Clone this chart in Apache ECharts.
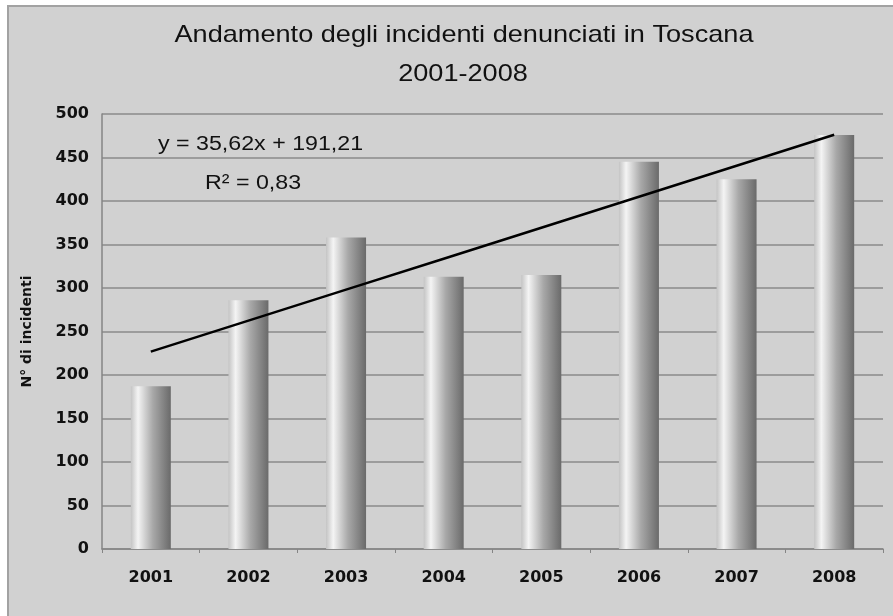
<!DOCTYPE html>
<html>
<head>
<meta charset="utf-8">
<script src="https://cdn.jsdelivr.net/npm/echarts@6/dist/echarts.min.js"></script>
<style>html,body{margin:0;padding:0;background:#fff;}#c{width:893px;height:616px;}</style>
</head>
<body>
<div id="c"></div>
<script>
const categories = ['2001','2002','2003','2004','2005','2006','2007','2008'];
const incidents = [187, 286, 358, 313, 315, 445, 425, 476];
// linear trend y = 35,62x + 191,21 evaluated at x = 1..8 (as in the reference)
const trend = [226.83, 262.45, 298.07, 333.69, 369.31, 404.93, 440.55, 476.17];
const yTicks = { min: 0, max: 500, interval: 50 };
const titleText = 'Andamento degli incidenti denunciati in Toscana';
const subtitleText = '2001-2008';
const eqText = 'y = 35,62x + 191,21';
const r2Text = 'R\u00B2 = 0,83';
const yName = 'N\u00B0 di incidenti';

const chart = echarts.init(document.getElementById('c'), null, {renderer: 'canvas'});
const FONT = '"Liberation Sans", Arial, sans-serif';
const AFONT = '"DejaVu Sans", sans-serif';
chart.setOption({
  backgroundColor: '#ffffff',
  animation: false,
  graphic: [
    { type: 'rect', z: -10, silent: true, shape: { x: 8, y: 6, width: 900, height: 620 },
      style: { fill: '#d1d1d1', stroke: '#a2a2a2', lineWidth: 2 } },
    { type: 'text', x: 464, y: 35, scaleX: 1.13,
      style: { text: titleText, font: '24px ' + FONT, fill: '#111', textAlign: 'center', textVerticalAlign: 'middle' } },
    { type: 'text', x: 463, y: 74, scaleX: 1.13,
      style: { text: subtitleText, font: '24px ' + FONT, fill: '#111', textAlign: 'center', textVerticalAlign: 'middle' } },
    { type: 'text', x: 158, y: 144, scaleX: 1.16,
      style: { text: eqText, font: '20px ' + FONT, fill: '#111', textVerticalAlign: 'middle' } },
    { type: 'text', x: 205, y: 183, scaleX: 1.16,
      style: { text: r2Text, font: '20px ' + FONT, fill: '#111', textVerticalAlign: 'middle' } }
  ],
  grid: { left: 102, right: 10, top: 114, bottom: 67 },
  xAxis: {
    type: 'category', data: categories, boundaryGap: true,
    axisLine: { lineStyle: { color: '#858585', width: 1.5 } },
    axisTick: { show: true, length: 4, lineStyle: { color: '#858585' } },
    axisLabel: { margin: 21, fontFamily: AFONT, fontSize: 16, fontWeight: 'bold', color: '#111' }
  },
  yAxis: {
    type: 'value', min: yTicks.min, max: yTicks.max, interval: yTicks.interval,
    name: yName, nameLocation: 'middle', nameGap: 68, nameRotate: 90,
    nameTextStyle: { fontFamily: AFONT, fontSize: 14, fontWeight: 'bold', color: '#111' },
    axisLine: { show: true, lineStyle: { color: '#858585', width: 1.5 } },
    axisTick: { show: false },
    axisLabel: { margin: 13, fontFamily: AFONT, fontSize: 16, fontWeight: 'bold', color: '#111' },
    splitLine: { lineStyle: { color: '#8a8a8a', width: 1.5 } }
  },
  series: [
    { type: 'bar', data: incidents, barWidth: 40,
      itemStyle: { color: new echarts.graphic.LinearGradient(0, 0, 1, 0, [
        { offset: 0, color: '#c4c4c4' },
        { offset: 0.18, color: '#f4f4f4' },
        { offset: 0.55, color: '#a8a8a8' },
        { offset: 1, color: '#6a6a6a' }
      ]) } },
    { type: 'line', data: trend, symbol: 'none', z: 5,
      lineStyle: { color: '#000', width: 2.5 } }
  ]
});
</script>
</body>
</html>
